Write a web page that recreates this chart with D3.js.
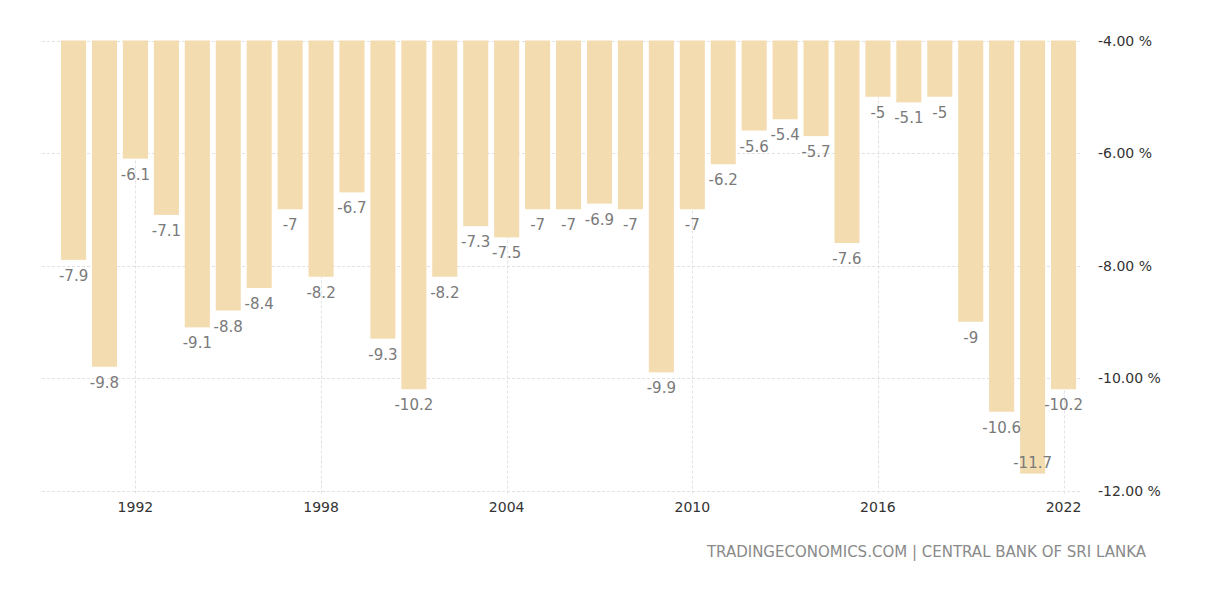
<!DOCTYPE html>
<html>
<head>
<meta charset="utf-8">
<script src="https://cdn.jsdelivr.net/npm/d3@7"></script>
<style>
  html, body { margin: 0; padding: 0; background: #ffffff; }
  svg { display: block; }
  text { font-family: "DejaVu Sans", Tahoma, sans-serif; }
</style>
</head>
<body>
<script>
// Sri Lanka government budget balance, % of GDP
const years = d3.range(1990, 2023);
const values = [-7.9, -9.8, -6.1, -7.1, -9.1, -8.8, -8.4, -7, -8.2, -6.7,
                -9.3, -10.2, -8.2, -7.3, -7.5, -7, -7, -6.9, -7, -9.9,
                -7, -6.2, -5.6, -5.4, -5.7, -7.6, -5, -5.1, -5, -9,
                -10.6, -11.7, -10.2];
const xTickYears = [1992, 1998, 2004, 2010, 2016, 2022];
const yTicks = [-4, -6, -8, -10, -12];
const sourceText = "TRADINGECONOMICS.COM | CENTRAL BANK OF SRI LANKA";

const W = 1216, H = 605;
const svg = d3.select("body").append("svg").attr("width", W).attr("height", H);

const x = d3.scaleBand().domain(years).range([58.1, 1079]).paddingInner(0.19).paddingOuter(0.095);
const y = d3.scaleLinear().domain([-4, -12]).range([40.5, 490.5]);

const gridLeft = 42, gridRight = 1082;
// plain hyphen-minus, as on the source site
const fmtVal = d => String(d);
const fmtAxis = d => d.toFixed(2) + " %";

// horizontal grid
svg.append("g").selectAll("line").data(yTicks).join("line")
  .attr("x1", gridLeft).attr("x2", gridRight)
  .attr("y1", d => Math.round(y(d)) + 0.5).attr("y2", d => Math.round(y(d)) + 0.5)
  .attr("stroke", "#e2e2e2").attr("stroke-width", 1).attr("stroke-dasharray", "3,2");

// vertical grid at year ticks
const xc = d => x(d) + x.bandwidth() / 2;
svg.append("g").selectAll("line").data(xTickYears).join("line")
  .attr("x1", d => Math.round(xc(d)) + 0.5).attr("x2", d => Math.round(xc(d)) + 0.5)
  .attr("y1", y(-4)).attr("y2", y(-12) + 5)
  .attr("stroke", "#e2e2e2").attr("stroke-width", 1).attr("stroke-dasharray", "3,2");

// bars hang down from the -4 baseline
svg.append("g").selectAll("rect").data(values).join("rect")
  .attr("x", (d, i) => x(years[i]))
  .attr("width", x.bandwidth())
  .attr("y", y(-4))
  .attr("height", d => y(d) - y(-4))
  .attr("fill", "#f3dcb0");

// value labels: below the bar end, or tucked inside when too close to the floor
const labelY = d => (y(d) + 21 > y(-12) - 3) ? y(d) - 6 : y(d) + 21;
svg.append("g").selectAll("text").data(values).join("text")
  .attr("x", (d, i) => xc(years[i]))
  .attr("y", labelY)
  .attr("text-anchor", "middle")
  .attr("font-size", 15)
  .attr("fill", "#7a7a7a")
  .text(fmtVal);

// x axis labels
svg.append("g").selectAll("text").data(xTickYears).join("text")
  .attr("x", d => xc(d))
  .attr("y", 512)
  .attr("text-anchor", "middle")
  .attr("font-size", 14)
  .attr("fill", "#333")
  .text(d => d);

// y axis labels on the right
svg.append("g").selectAll("text").data(yTicks).join("text")
  .attr("x", 1098)
  .attr("y", d => y(d) + 5)
  .attr("font-size", 14)
  .attr("fill", "#333")
  .text(fmtAxis);

// source note
svg.append("text")
  .attr("x", 1146).attr("y", 557)
  .attr("text-anchor", "end")
  .attr("font-size", 15)
  .attr("fill", "#8a8a8a")
  .text(sourceText);
</script>
</body>
</html>
